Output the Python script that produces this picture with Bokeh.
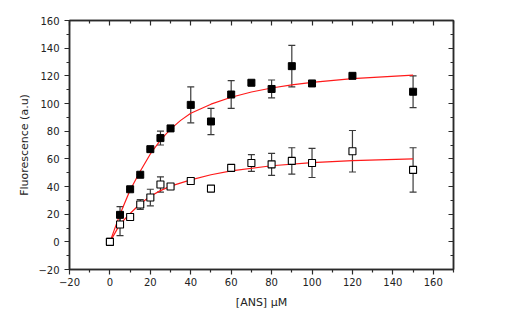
from bokeh.plotting import figure
from bokeh.models import Range1d, FixedTicker, LinearAxis, Whisker, TeeHead, ColumnDataSource
from bokeh.embed import file_html
from bokeh.resources import INLINE

# ---- data ----
conc = [0, 5, 10, 15, 20, 25, 30, 40, 50, 60, 70, 80, 90, 100, 120, 150]
filled = [0, 19.5, 38, 48.5, 67, 75, 82, 99, 87, 106.5, 115, 110.5, 127, 114.5, 120, 108.5]
filled_err = [0, 6, 0, 0, 0, 5, 0, 13, 9.5, 10, 1.5, 6.5, 15, 1.5, 1, 11.5]
open_vals = [0, 12.5, 18, 27, 32, 41.5, 40, 44, 38.5, 53.5, 57, 56, 58.5, 57, 65.5, 52]
open_err = [0, 8, 0, 3.5, 6, 5.5, 0, 0, 0, 0, 6, 8, 9.5, 10.5, 15, 16]

fit_x_filled = [0, 5, 10, 15, 20, 25, 30, 35, 40, 50, 60, 70, 80, 90, 100, 120, 150]
fit_filled = [0, 20, 37.5, 51, 63.5, 73.5, 81.5, 87.8, 93, 99.5, 104.5, 108.3, 111.2, 113.5, 115.3, 118, 120.5]
fit_x_open = [0, 5, 10, 15, 20, 25, 30, 40, 50, 60, 80, 100, 120, 150]
fit_open = [0, 12.8, 20.5, 27.5, 33, 37, 40.3, 44.8, 48.5, 51.3, 55, 57.2, 58.7, 60]

x_ticks = [-20, 0, 20, 40, 60, 80, 100, 120, 140, 160]
x_minor = [-10, 10, 30, 50, 70, 90, 110, 130, 150, 170]
y_ticks = [-20, 0, 20, 40, 60, 80, 100, 120, 140, 160]
y_minor = [-10, 10, 30, 50, 70, 90, 110, 130, 150]

FONT = "DejaVu Sans"
AX = "#2a2a2a"

p = figure(width=500, height=312, output_backend="svg", toolbar_location=None,
           x_range=Range1d(-20, 170), y_range=Range1d(-20, 160),
           min_border_left=69, min_border_top=20, min_border_right=47, min_border_bottom=10)
p.frame_width = 384
p.frame_height = 249
p.grid.visible = False
p.outline_line_color = AX
p.outline_line_width = 1.5
p.background_fill_color = "white"
p.border_fill_color = "white"

def style_axis(ax, labels=True, inside=False):
    ax.axis_line_color = AX
    ax.axis_line_width = 1.5
    ax.major_tick_line_color = AX
    ax.minor_tick_line_color = AX
    ax.major_tick_line_width = 1.2
    ax.minor_tick_line_width = 1.2
    if inside:
        ax.major_tick_in = 5
        ax.major_tick_out = 0
        ax.minor_tick_in = 3
        ax.minor_tick_out = 0
    else:
        ax.major_tick_in = 0
        ax.major_tick_out = 5
        ax.minor_tick_in = 0
        ax.minor_tick_out = 3
    ax.major_label_text_font = FONT
    ax.major_label_text_font_size = "10px"
    ax.major_label_text_color = "#222222"
    ax.axis_label_text_font = FONT
    ax.axis_label_text_font_size = "11px"
    ax.axis_label_text_font_style = "normal"
    ax.axis_label_text_color = "#222222"
    if not labels:
        ax.major_label_text_font_size = "0px"
        ax.major_label_text_alpha = 0

p.xaxis.ticker = FixedTicker(ticks=x_ticks, minor_ticks=x_minor)
p.yaxis.ticker = FixedTicker(ticks=y_ticks, minor_ticks=y_minor)
style_axis(p.xaxis[0])
style_axis(p.yaxis[0])
p.xaxis.axis_label = "[ANS] μM"
p.yaxis.axis_label = "Fluorescence (a.u)"
p.xaxis.major_label_standoff = 3
p.yaxis.major_label_standoff = 5
p.xaxis.axis_label_standoff = 7
p.yaxis.axis_label_standoff = 4

top = LinearAxis(ticker=FixedTicker(ticks=x_ticks, minor_ticks=x_minor))
style_axis(top, labels=False, inside=True)
p.add_layout(top, "above")
right = LinearAxis(ticker=FixedTicker(ticks=y_ticks, minor_ticks=y_minor))
style_axis(right, labels=False, inside=True)
p.add_layout(right, "right")

src_f = ColumnDataSource(dict(x=conc, y=filled,
                              lo=[v - e for v, e in zip(filled, filled_err)],
                              hi=[v + e for v, e in zip(filled, filled_err)]))
src_o = ColumnDataSource(dict(x=conc, y=open_vals,
                              lo=[v - e for v, e in zip(open_vals, open_err)],
                              hi=[v + e for v, e in zip(open_vals, open_err)]))

for src in (src_f, src_o):
    w = Whisker(source=src, base="x", lower="lo", upper="hi", line_color="#3a3a3a", line_width=1.2,
                upper_head=TeeHead(size=7, line_color="#3a3a3a", line_width=1.2),
                lower_head=TeeHead(size=7, line_color="#3a3a3a", line_width=1.2))
    p.add_layout(w)

p.line(fit_x_filled, fit_filled, line_color="#ff1a1a", line_width=1.2)
p.line(fit_x_open, fit_open, line_color="#ff1a1a", line_width=1.2)

p.scatter("x", "y", source=src_f, marker="square", size=7, fill_color="black", line_color="black")
p.scatter("x", "y", source=src_o, marker="square", size=7, fill_color="white", line_color="black", line_width=1.1)

open("out.html", "w").write(file_html(p, INLINE))
